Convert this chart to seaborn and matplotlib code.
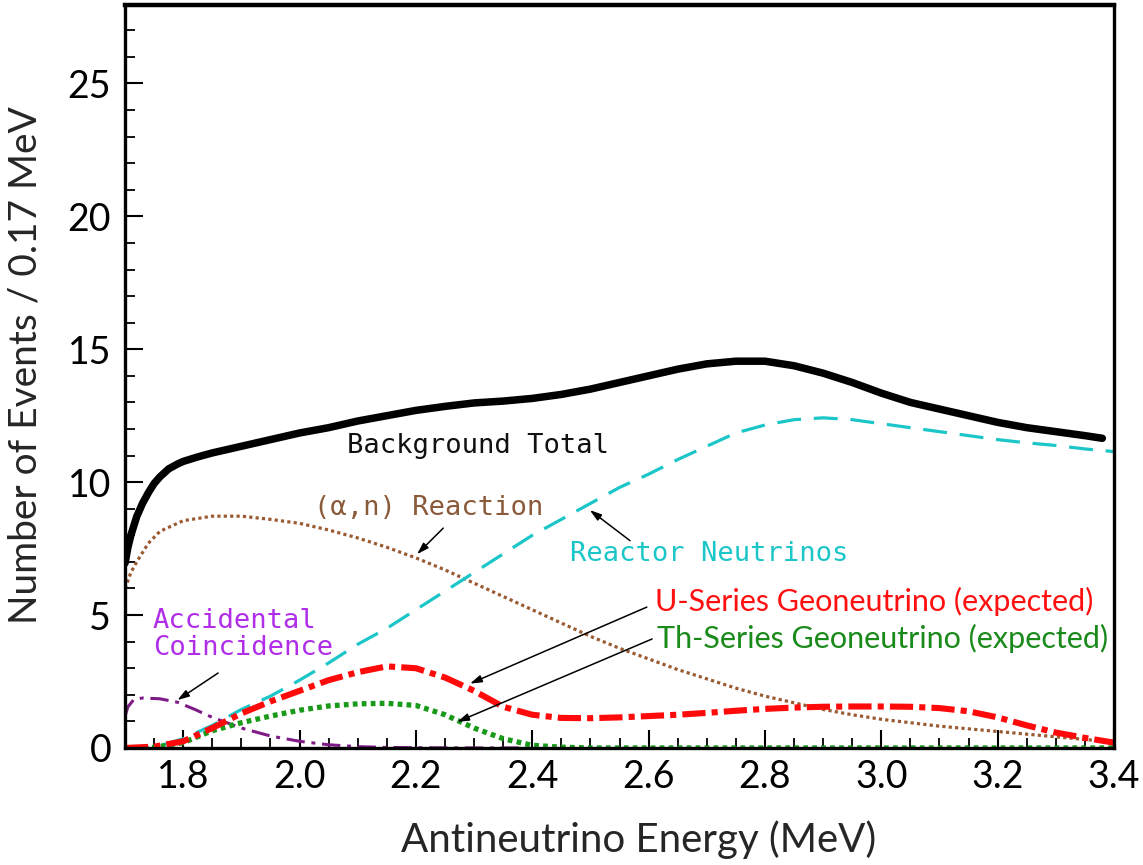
import numpy as np
import pandas as pd
import matplotlib
matplotlib.use("Agg")
import matplotlib.pyplot as plt
import seaborn as sns
from matplotlib.ticker import MultipleLocator

# ---------------- data ----------------
total_x = [1.70, 1.705, 1.71, 1.72, 1.73, 1.74, 1.75, 1.76, 1.775, 1.79, 1.80, 1.825,
           1.85, 1.90, 1.95, 2.00, 2.05, 2.10,
           2.15, 2.20, 2.25, 2.30, 2.35, 2.40, 2.45, 2.50, 2.55, 2.60, 2.65, 2.70,
           2.75, 2.80, 2.85, 2.90, 2.95, 3.00, 3.05, 3.10, 3.15, 3.20, 3.25, 3.30,
           3.35, 3.38]
total_y = [6.95, 7.55, 8.0, 8.7, 9.2, 9.6, 9.95, 10.2, 10.5, 10.68, 10.78, 10.95,
           11.1, 11.35, 11.6, 11.85, 12.05, 12.3,
           12.5, 12.7, 12.85, 12.98, 13.05, 13.15, 13.3, 13.5, 13.75, 14.0, 14.25, 14.45,
           14.55, 14.55, 14.38, 14.1, 13.75, 13.35, 13.0, 12.75, 12.5, 12.25, 12.05, 11.9,
           11.75, 11.65]

reactor_x = [1.70, 1.75, 1.80, 1.85, 1.90, 1.95, 2.00, 2.05, 2.10, 2.15, 2.20, 2.25,
             2.30, 2.35, 2.40, 2.45, 2.50, 2.55, 2.60, 2.65, 2.70, 2.75, 2.80, 2.85,
             2.90, 2.95, 3.00, 3.05, 3.10, 3.15, 3.20, 3.25, 3.30, 3.35, 3.40]
reactor_y = [0.0, 0.02, 0.35, 0.85, 1.45, 1.95, 2.55, 3.2, 3.9, 4.5, 5.2, 5.9,
             6.6, 7.3, 8.0, 8.6, 9.2, 9.8, 10.3, 10.85, 11.35, 11.85, 12.15, 12.35,
             12.42, 12.35, 12.2, 12.05, 11.9, 11.75, 11.6, 11.48, 11.38, 11.25, 11.15]

alphan_x = [1.70, 1.71, 1.72, 1.74, 1.76, 1.80, 1.85, 1.90, 1.95, 2.00, 2.05, 2.10,
            2.15, 2.20, 2.25, 2.30, 2.35, 2.40, 2.45, 2.50, 2.55, 2.60, 2.65, 2.70,
            2.75, 2.80, 2.85, 2.90, 2.95, 3.00, 3.05, 3.10, 3.15, 3.20, 3.25, 3.30,
            3.35, 3.40]
alphan_y = [6.0, 6.6, 7.0, 7.7, 8.15, 8.55, 8.72, 8.72, 8.6, 8.45, 8.2, 7.9,
            7.55, 7.15, 6.7, 6.2, 5.7, 5.2, 4.7, 4.2, 3.75, 3.35, 2.95, 2.6,
            2.25, 1.95, 1.7, 1.45, 1.25, 1.08, 0.95, 0.82, 0.72, 0.62, 0.52, 0.42,
            0.32, 0.22]

accid_x = [1.70, 1.705, 1.715, 1.73, 1.76, 1.79, 1.82, 1.85, 1.90, 1.95, 2.00, 2.05,
           2.10, 2.15, 2.20, 2.30, 2.40]
accid_y = [1.2, 1.55, 1.82, 1.88, 1.85, 1.72, 1.45, 1.15, 0.75, 0.45, 0.25, 0.12,
           0.05, 0.02, 0.01, 0.0, 0.0]

u_x = [1.70, 1.75, 1.80, 1.85, 1.90, 1.95, 2.00, 2.05, 2.10, 2.15, 2.20, 2.25, 2.30,
       2.35, 2.40, 2.45, 2.50, 2.55, 2.60, 2.65, 2.70, 2.75, 2.80, 2.85, 2.90, 2.95,
       3.00, 3.05, 3.10, 3.15, 3.20, 3.25, 3.30, 3.35, 3.40]
u_y = [0.0, 0.05, 0.25, 0.75, 1.3, 1.75, 2.15, 2.55, 2.85, 3.07, 3.0, 2.65, 2.15,
       1.55, 1.25, 1.13, 1.12, 1.15, 1.2, 1.25, 1.32, 1.4, 1.47, 1.52, 1.55, 1.56,
       1.56, 1.55, 1.5, 1.38, 1.15, 0.85, 0.58, 0.38, 0.2]

th_x = [1.70, 1.75, 1.80, 1.85, 1.90, 1.95, 2.00, 2.05, 2.10, 2.15, 2.20, 2.25, 2.30,
        2.35, 2.40, 2.45, 2.50, 2.60, 2.80, 3.00, 3.20, 3.40]
th_y = [0.0, 0.02, 0.2, 0.65, 0.95, 1.2, 1.42, 1.58, 1.66, 1.68, 1.6, 1.25, 0.75,
        0.35, 0.1, 0.03, 0.0, 0.0, 0.0, 0.0, 0.0, 0.0]

x_ticks = [1.8, 2.0, 2.2, 2.4, 2.6, 2.8, 3.0, 3.2, 3.4]
y_ticks = [0, 5, 10, 15, 20, 25]

# ---------------- style ----------------
sns.set_style("white")
plt.rcParams['font.family'] = ['Lato', 'DejaVu Sans']
plt.rcParams['axes.linewidth'] = 2.2

fig = plt.figure(figsize=(11.43, 8.65), dpi=100)
ax = fig.add_axes([0.1094, 0.1353, 0.9746 - 0.1094, 0.9942 - 0.1353])

def draw(x, y, color, lw, ls):
    sns.lineplot(x=x, y=y, ax=ax, color=color, linewidth=lw, estimator=None, sort=False)
    line = ax.lines[-1]
    line.set_linestyle(ls)
    line.set_dash_capstyle('butt')
    line.set_solid_joinstyle('round')
    return line

draw(alphan_x, alphan_y, '#9a5a32', 2.3, (0, (1.0, 1.0)))
draw(reactor_x, reactor_y, '#1cc6c8', 2.3, (0, (7.5, 4.0)))
draw(accid_x, accid_y, '#7e1b86', 2.2, (0, (6.0, 2.2, 1.3, 2.2)))
draw(th_x, th_y, '#1a9a1a', 3.8, (0, (0.9, 0.8)))
draw(u_x, u_y, '#ff0a0a', 4.4, (0, (3.8, 1.0, 1.0, 1.0)))
draw(total_x, total_y, 'black', 5.4, '-')

ax.set_xlim(1.7, 3.4)
ax.set_ylim(0, 27.95)
ax.set_xticks(x_ticks)
ax.set_xticklabels([f"{v:.1f}" for v in x_ticks])
ax.set_yticks(y_ticks)
ax.xaxis.set_minor_locator(MultipleLocator(0.05))
ax.yaxis.set_minor_locator(MultipleLocator(1))
ax.tick_params(which='both', direction='in', bottom=True, left=True, top=False,
               right=False, colors='black')
ax.tick_params(which='major', length=13, width=1.5, labelsize=27, pad=10)
ax.tick_params(which='minor', length=7, width=1.3)
ax.tick_params(axis='x', which='major', pad=8)
for s in ax.spines.values():
    s.set_color('black')
    s.set_linewidth(2.4)
ax.spines['top'].set_linewidth(3.2)

ax.set_xlabel("Antineutrino Energy (MeV)", fontsize=29)
ax.set_ylabel("Number of Events / 0.17 MeV", fontsize=28)
ax.xaxis.set_label_coords(0.519, -0.098)
ax.yaxis.set_label_coords(-0.082, 0.516)

mono = 'DejaVu Sans Mono'
arrow = dict(arrowstyle='-|>,head_length=0.7,head_width=0.22', color='black', lw=1.1,
             shrinkA=0, shrinkB=0)

ax.text(2.307, 11.35, "Background Total", family=mono, fontsize=19.5, color='#111111',
        ha='center', va='center')
ax.annotate("", xy=(2.202, 7.29), xytext=(2.247, 8.27), arrowprops=arrow)
ax.text(2.222, 9.02, "(\u03b1,n) Reaction", family=[mono, 'DejaVu Sans'], fontsize=19.5,
        color='#8b5a3a', ha='center', va='center')
ax.annotate("", xy=(2.499, 8.95), xytext=(2.568, 7.8), arrowprops=arrow)
ax.text(2.465, 7.3, "Reactor Neutrinos", family=mono, fontsize=19.5, color='#1cc6c8',
        ha='left', va='center')
ax.text(1.748, 4.25, "Accidental\nCoincidence", family=mono, fontsize=19.5,
        color='#b02ee8', ha='left', va='center', linespacing=1.05)
ax.annotate("", xy=(1.79, 1.8), xytext=(1.86, 2.82), arrowprops=arrow)
ax.text(2.611, 5.5, "U-Series Geoneutrino (expected)", fontsize=22, color='#ff1010',
        ha='left', va='center')
ax.annotate("", xy=(2.293, 2.42), xytext=(2.597, 5.3), arrowprops=arrow)
ax.text(2.614, 4.13, "Th-Series Geoneutrino (expected)", fontsize=22, color='#1a8a1a',
        ha='left', va='center')
ax.annotate("", xy=(2.271, 0.98), xytext=(2.606, 4.1), arrowprops=arrow)

fig.savefig("out.png", dpi=100)
